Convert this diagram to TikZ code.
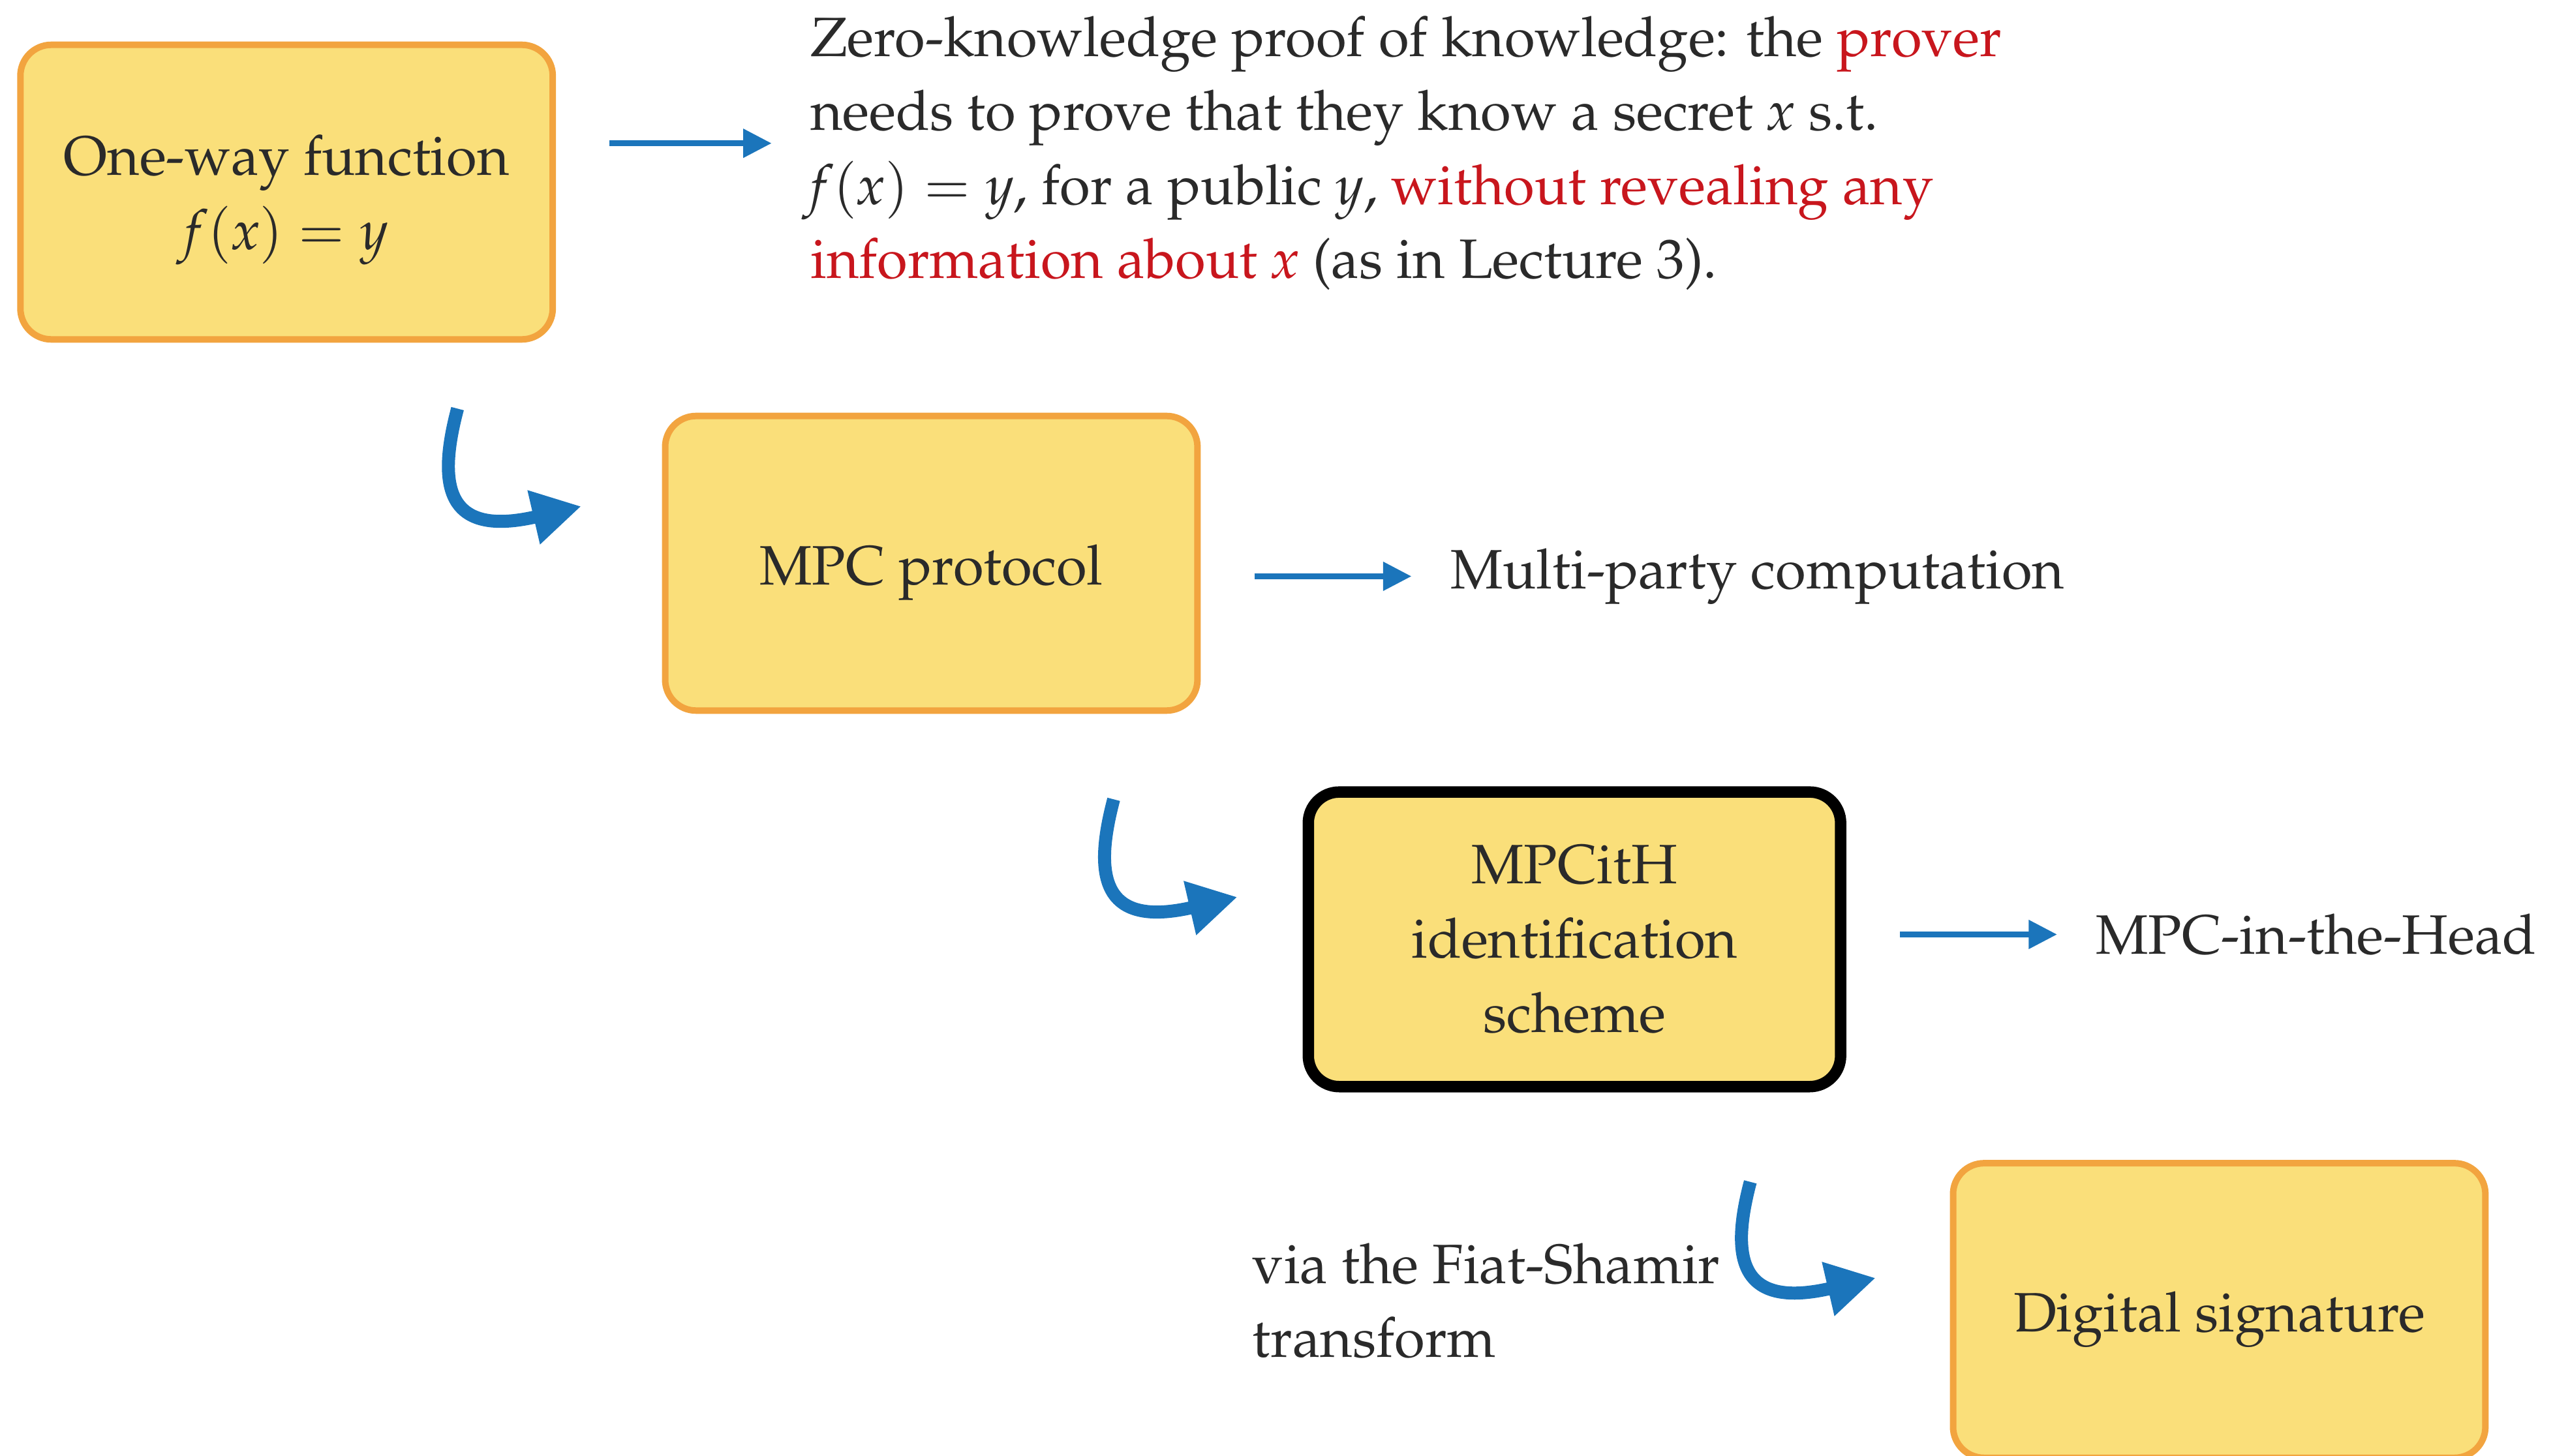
\documentclass[tikz,border=0pt]{standalone}
\usepackage[T1]{fontenc}
\usepackage{mathpazo}
\usepackage{xcolor}
\usetikzlibrary{arrows.meta, positioning}

\definecolor{boxfill}{HTML}{FADF7A}
\definecolor{boxline}{HTML}{F2A43F}
\definecolor{arrowblue}{HTML}{1B75BB}
\definecolor{emphred}{HTML}{C8161D}
\definecolor{inkgray}{HTML}{2A2A2A}

\begin{document}
\begin{tikzpicture}[x=0.02cm, y=-0.02cm, node distance=3.06cm,
  font=\fontsize{19.4}{25.9}\selectfont, text=inkgray,
  block/.style={draw=boxline, line width=0.08cm, fill=boxfill, rounded corners=0.38cm,
    minimum width=6.54cm, minimum height=3.62cm, align=center, text height=20.5pt},
  note/.style={inner sep=0pt, align=left},
  link/.style={draw=arrowblue, line width=0.074cm, -{Triangle[length=0.35cm, width=0.34cm]},
    shorten <=0.66cm, shorten >=0.47cm},
  hook/.style={draw=arrowblue, line width=0.16cm, -{Triangle[length=0.6cm, width=0.64cm]}}]
\useasboundingbox (0,0) rectangle (1568,894);

\node[block, text height=45.5pt] (owf) at (176,118) {One-way function\\$\mathit{f}(\mathit{x})=\mathit{y}$};
\node[block] (mpc) at (572,346) {MPC protocol};
\node[block, draw=black, line width=0.14cm, text height=] (mpcith) at (967,577) {MPCitH\\identification\\scheme};
\node[block] (sig) at (1363,805) {Digital signature};

\node[note, right=3.12cm of owf, yshift=0.48cm] (zkp) {Zero-knowledge proof of knowledge: the \textcolor{emphred}{prover}\\
  needs to prove that they know a secret $\mathit{x}$ s.t.\\
  $\mathit{f}(\mathit{x})=\mathit{y}$, for a public $\mathit{y}$, \textcolor{emphred}{without revealing any}\\
  \textcolor{emphred}{information about $\mathit{x}$} (as in Lecture 3).};
\node[note, right=of mpc, yshift=-0.16cm] (multi) {Multi-party computation};
\node[note, right=of mpcith, yshift=0.06cm] (head) {MPC-in-the-Head};
\node[note, anchor=west] (fiat) at (769,799) {via the Fiat-Shamir\\transform};

\draw[link] ([yshift=0.12cm]owf.east |- zkp.west) -- ([yshift=0.12cm]zkp.west);
\draw[link] (mpc.east |- multi.west) -- (multi.west);
\draw[link] (mpcith.east |- head.west) -- (head.west);

% hooked arrows between the steps
\coordinate (bend1a) at (281,251);
\coordinate (bend1b) at (357,311);
\coordinate (bend2a) at (684,491);
\coordinate (bend2b) at (760,551);
\coordinate (bend3a) at (1075,726);
\coordinate (bend3b) at (1152,785);
\draw[hook] (bend1a) .. controls ([shift={(-13,49)}]bend1a) and ([shift={(-82,19)}]bend1b) .. (bend1b);
\draw[hook] (bend2a) .. controls ([shift={(-13,49)}]bend2a) and ([shift={(-82,19)}]bend2b) .. (bend2b);
\draw[hook] (bend3a) .. controls ([shift={(-13,49)}]bend3a) and ([shift={(-82,19)}]bend3b) .. (bend3b);
\end{tikzpicture}
\end{document}
